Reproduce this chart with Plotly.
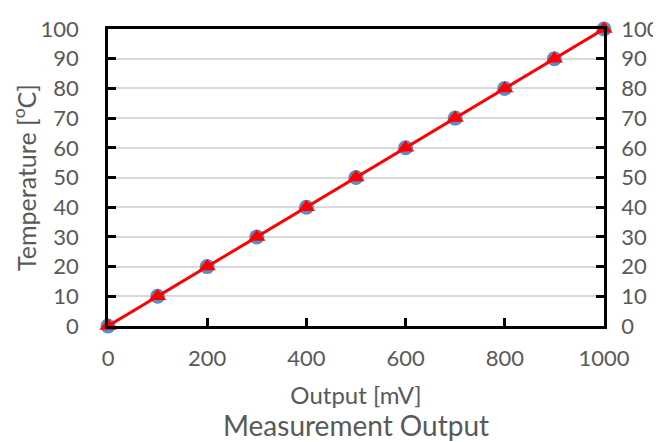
import plotly.graph_objects as go

output_mv = [0, 100, 200, 300, 400, 500, 600, 700, 800, 900, 1000]
temp_measured = [0, 10, 20, 30, 40, 50, 60, 70, 80, 90, 100]
temp_expected = [0, 10, 20, 30, 40, 50, 60, 70, 80, 90, 100]
x_ticks = [0, 200, 400, 600, 800, 1000]
y_ticks = [0, 10, 20, 30, 40, 50, 60, 70, 80, 90, 100]

FONT = "Lato"
GREY = "#595959"
TICK_SIZE = 22
TITLE_SIZE = 24

fig = go.Figure()
fig.add_trace(go.Scatter(
    x=output_mv, y=temp_measured, mode="markers",
    marker=dict(symbol="circle", size=15, color="#5B8BC8"),
    cliponaxis=False, showlegend=False))
fig.add_trace(go.Scatter(
    x=output_mv, y=temp_expected, mode="lines+markers",
    line=dict(color="#FF0000", width=3),
    marker=dict(symbol="triangle-up", size=15, color="#FF0000"),
    cliponaxis=False, showlegend=False))
# invisible trace to activate secondary y axis
fig.add_trace(go.Scatter(x=[output_mv[0]], y=[temp_expected[0]], yaxis="y2",
                         mode="markers", marker=dict(opacity=0),
                         showlegend=False, hoverinfo="skip"))

axis_common = dict(showline=True, linecolor="black", linewidth=2.5,
                   ticks="inside", ticklen=8, tickwidth=2.5, tickcolor="black",
                   zeroline=False, automargin=False,
                   tickfont=dict(family=FONT, size=TICK_SIZE, color=GREY))

fig.update_layout(
    width=661, height=442,
    margin=dict(l=100, r=65, t=21, b=124),
    paper_bgcolor="white", plot_bgcolor="white",
    font=dict(family=FONT, color=GREY, size=TICK_SIZE),
    xaxis=dict(range=[0, 1000], tickvals=x_ticks, mirror=True, showgrid=False,
               ticklabelstandoff=11,
               title=dict(text="Output [mV]", font=dict(family=FONT, size=TITLE_SIZE, color=GREY),
                          standoff=18),
               **axis_common),
    yaxis=dict(range=[0, 100], tickvals=y_ticks, mirror=True, showgrid=True,
               gridcolor="#D9D9D9", gridwidth=1.5, ticklabelstandoff=22,
               title=dict(text="Temperature [<sup>o</sup>C]",
                          font=dict(family=FONT, size=25, color=GREY), standoff=0),
               **axis_common),
    yaxis2=dict(range=[0, 100], tickvals=y_ticks, overlaying="y", side="right",
                showgrid=False, ticklabelstandoff=10, **axis_common),
    annotations=[dict(text="Measurement Output", xref="paper", yref="paper",
                      x=0.5, y=-0.332, xanchor="center", yanchor="middle",
                      showarrow=False, font=dict(family=FONT, size=28, color=GREY))],
)

fig.write_html("out.html")
